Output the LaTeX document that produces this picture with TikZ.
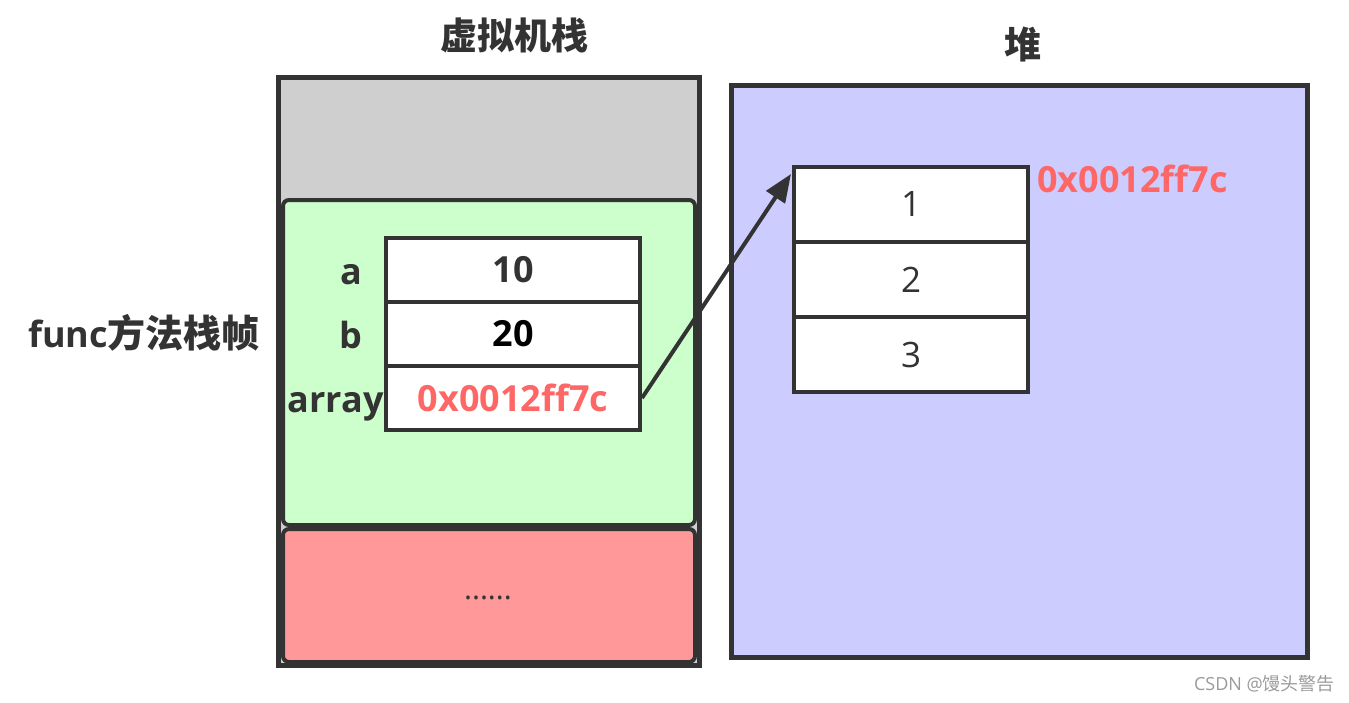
\documentclass[tikz,border=0pt]{standalone}
\usepackage{fontspec}
\setmainfont{Open Sans}
\newfontfamily\cjk{Noto Sans CJK SC}
\usetikzlibrary{arrows.meta}
\definecolor{dk}{HTML}{333333}
\definecolor{stackgray}{HTML}{CFCFCF}
\definecolor{framegreen}{HTML}{CCFFCC}
\definecolor{framered}{HTML}{FF9999}
\definecolor{heapblue}{HTML}{CCCCFF}
\definecolor{addr}{HTML}{FF6666}
\definecolor{wm}{HTML}{9A9A9A}
\tikzset{
  panel/.style={draw=dk, line width=4pt, rounded corners=6pt, inner sep=0pt},
  cell/.style={draw=dk, line width=4pt, fill=white, inner sep=0pt},
  vcell/.style={cell, minimum width=254pt, minimum height=64pt, font=\fontsize{36}{40}\selectfont\bfseries, text=dk},
  hcell/.style={cell, minimum width=234pt, minimum height=75pt, font=\fontsize{35}{40}\selectfont, text=dk},
  lbl/.style={font=\fontsize{36}{40}\selectfont\bfseries, text=dk, inner sep=0pt},
  title/.style={font=\fontsize{37}{40}\selectfont\bfseries\cjk, text=dk, inner sep=0pt},
  ptr/.style={draw=dk, line width=4pt, -{Triangle[length=28pt,width=22pt]}}
}
\begin{document}
\begin{tikzpicture}[x=1pt,y=-1pt]
\useasboundingbox (0,0) rectangle (1349,702);
% titles
\node[title] (ttl1) at (514,35) {虚拟机栈};
\node[title] (ttl2) at (1023,45) {堆};
% stack
\node[draw=dk, line width=5pt, fill=stackgray, minimum width=421pt, minimum height=588pt, inner sep=0pt] (stack) at (488.5,371) {};
\node[panel, fill=framegreen, minimum width=412pt, minimum height=325pt] (frame) at (489,362.5) {};
\node[panel, fill=framered, minimum width=412pt, minimum height=133pt] (other) at (489,595.5) {};
\node[font=\fontsize{30}{32}\selectfont, text=dk, inner sep=0pt] (dots) at (488,598) {......};
% local variable table
\node[vcell] (va) at (513,270) {10};
\node[vcell, text=black] (vb) at (513,334) {20};
\node[vcell, text=addr] (vc) at (513,398) {0x0012ff7c};
\node[lbl, anchor=base] (la) at (351,284) {a};
\node[lbl, anchor=base] (lb) at (351,348) {b};
\node[lbl, anchor=base east] (lc) at (384,412) {array};
\node[lbl, anchor=base west] (fn) at (28,347) {func{\fontsize{38}{40}\selectfont\cjk 方法栈帧}};
% heap
\node[draw=dk, line width=5pt, fill=heapblue, minimum width=576pt, minimum height=572pt, inner sep=0pt] (heap) at (1019,371) {};
\node[hcell] (h1) at (911,204.5) {1};
\node[hcell] (h2) at (911,279.5) {2};
\node[hcell] (h3) at (911,354.5) {3};
\node[lbl, text=addr, anchor=base west] (haddr) at (1037,192) {0x0012ff7c};
% pointer
\coordinate (tip) at ([xshift=-1pt,yshift=-9pt]h1.north west);
\draw[ptr] (vc.east) -- (tip);
% watermark
\node[font=\fontsize{18}{20}\selectfont, text=wm, inner sep=0pt, anchor=east] (mark) at (1335,684) {CSDN @{\cjk 馒头警告}};
\end{tikzpicture}
\end{document}
